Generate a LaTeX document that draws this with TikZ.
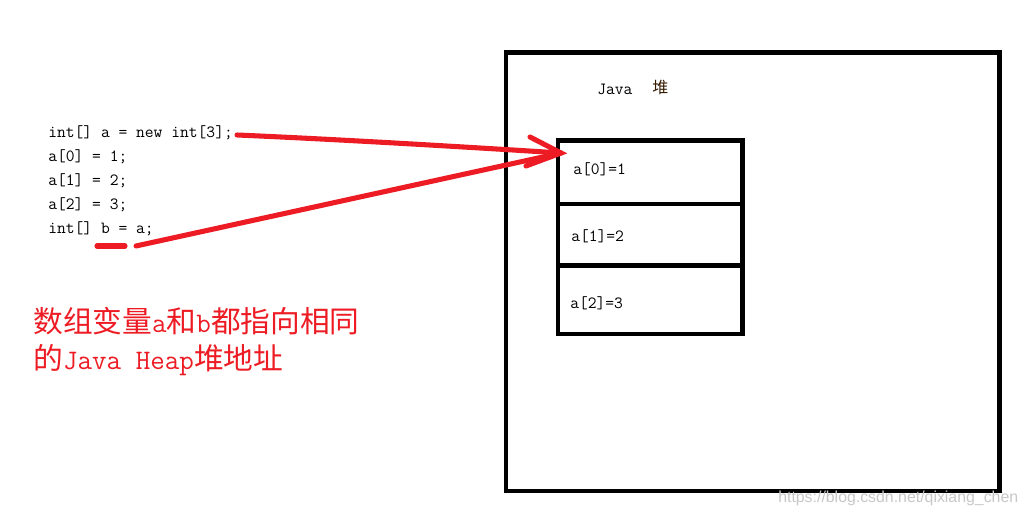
\documentclass[tikz,border=0pt]{standalone}
\usepackage{fontspec}
\newfontfamily\cjk{Noto Sans CJK SC}
\newfontfamily\wmfont{Liberation Sans}
\definecolor{pred}{RGB}{237,28,36}
\begin{document}
\begin{tikzpicture}[x=0.75pt,y=-0.75pt,
  box/.style={draw=black,line width=3.4pt},
  code/.style={anchor=base west,inner sep=0pt,font=\fontsize{12.8}{15}\ttfamily},
  cell/.style={anchor=base west,inner sep=0pt,font=\fontsize{12.8}{15}\ttfamily},
  redline/.style={draw=pred,line width=3.8pt,line cap=round},
  note/.style={anchor=base west,inner sep=0pt,text=pred,font=\fontsize{22.3}{26}\cjk}]
\useasboundingbox (0,0) rectangle (1027,516);
% heap boxes
\draw[box] (506,52.5) rectangle (999.5,491);
\draw[box] (558,140.5) rectangle (742.5,334);
\draw[box] (558,204) -- (742.5,204);
\draw[box] (558,265.5) -- (742.5,265.5);
\node[anchor=base west,inner sep=0pt,font=\fontsize{12.8}{15}\ttfamily] (java) at (597,95) {Java};
\node[anchor=base west,inner sep=0pt,font=\fontsize{12}{14}\cjk,text=black!80!orange] (dui) at (652,94) {堆};
% cells
\node[cell] (c0) at (573,175) {a[0]=1};
\node[cell] (c1) at (571,242) {a[1]=2};
\node[cell] (c2) at (570,309) {a[2]=3};
% code
\node[code] (l1) at (48,138) {int[] a = new int[3];};
\node[code] (l2) at (48,162) {a[0] = 1;};
\node[code] (l3) at (48,186) {a[1] = 2;};
\node[code] (l4) at (48,210) {a[2] = 3;};
\node[code] (l5) at (48,234) {int[] b = a;};
% arrows
\coordinate (tip) at (561,153);
\coordinate (s1) at (237,135);
\coordinate (s2) at (136,246);
\coordinate (u1) at (97,246);
\coordinate (u2) at (125,246);
\coordinate (h1) at (530,137);
\coordinate (h2) at (526,166);
\draw[redline] (s1) .. controls (330,139) and (450,146) .. (tip);
\draw[redline] (s2) -- (tip);
\draw[redline] (h1) -- (tip) -- (h2);
\draw[redline] (u1) -- (u2);
% note
\node[note] (n1) at (33,332) {数组变量{\fontsize{21.2}{26}\ttfamily a}和{\fontsize{21.2}{26}\ttfamily b}都指向相同};
\node[note] (n2) at (33,369) {的{\fontsize{21.2}{26}\ttfamily Java Heap}堆地址};
% watermark
\node[anchor=base west,inner sep=0pt,text=black!22,font=\fontsize{11.9}{14}\wmfont] (wm) at (778,502) {https://blog.csdn.net/qixiang\_chen};
\end{tikzpicture}
\end{document}
